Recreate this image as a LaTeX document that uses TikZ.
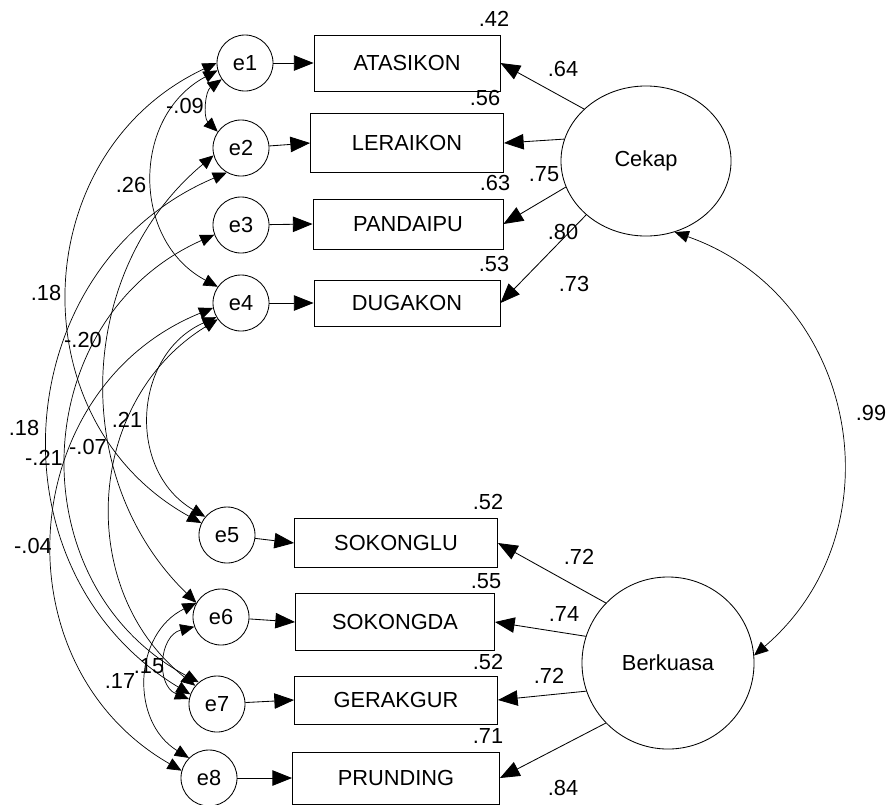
\documentclass[tikz,border=0pt]{standalone}
\usepackage{fontspec}
\setmainfont{Liberation Sans}
\usetikzlibrary{arrows.meta,shapes.geometric}

\begin{document}
\begin{tikzpicture}[x=0.025cm, y=0.025cm, font=\fontsize{15.5}{18}\selectfont,
  err/.style={draw, circle, minimum size=1.4cm, inner sep=0pt, line width=0.6pt},
  obs/.style={draw, rectangle, inner sep=0pt, line width=0.6pt},
  lat/.style={draw, ellipse, inner sep=0pt, line width=0.6pt},
  load/.style={-{Triangle[length=14pt,width=11pt]}, line width=0.6pt},
  cov/.style={{Triangle[length=10pt,width=8.5pt]}-{Triangle[length=10pt,width=8.5pt]}, line width=0.5pt},
  num/.style={inner sep=0pt}]
  \useasboundingbox (0,0) rectangle (886,-804);

  % error terms
  \node[err] (e1) at (245,-63) {e1};
  \node[err] (e2) at (241,-148) {e2};
  \node[err] (e3) at (241,-225) {e3};
  \node[err] (e4) at (241,-303) {e4};
  \node[err] (e5) at (227,-535) {e5};
  \node[err] (e6) at (221,-617) {e6};
  \node[err] (e7) at (217,-704) {e7};
  \node[err] (e8) at (209,-778) {e8};

  % observed items
  \node[obs, minimum width=4.65cm, minimum height=1.4cm] (atasikon) at (407,-63) {ATASIKON};
  \node[obs, minimum width=4.825cm, minimum height=1.475cm] (leraikon) at (407,-143) {LERAIKON};
  \node[obs, minimum width=4.75cm, minimum height=1.25cm] (pandaipu) at (408,-224) {PANDAIPU};
  \node[obs, minimum width=4.65cm, minimum height=1.15cm] (dugakon) at (407,-303) {DUGAKON};
  \node[obs, minimum width=5.075cm, minimum height=1.225cm] (sokonglu) at (396,-543) {SOKONGLU};
  \node[obs, minimum width=4.975cm, minimum height=1.425cm] (sokongda) at (395,-622) {SOKONGDA};
  \node[obs, minimum width=5.075cm, minimum height=1.2cm] (gerakgur) at (396,-700) {GERAKGUR};
  \node[obs, minimum width=5.175cm, minimum height=1.3cm] (prunding) at (396,-778) {PRUNDING};

  % factors
  \node[lat, minimum width=4.25cm, minimum height=3.75cm] (cekap) at (646,-161) {Cekap};
  \node[lat, minimum width=4.3cm, minimum height=4.3cm] (berkuasa) at (668,-663) {Berkuasa};

  % error -> item
  \draw[load] (e1) -- (atasikon.west);
  \draw[load] (e2) -- (leraikon.west);
  \draw[load] (e3) -- (pandaipu.west);
  \draw[load] (e4) -- (dugakon.west);
  \draw[load] (e5) -- (sokonglu.west);
  \draw[load] (e6) -- (sokongda.west);
  \draw[load] (e7) -- (gerakgur.west);
  \draw[load] (e8) -- (prunding.west);

  % factor -> item
  \draw[load] (cekap.140) -- (atasikon.east);
  \draw[load] (cekap.165) -- (leraikon.east);
  \draw[load] (cekap.198) -- (pandaipu.east);
  \draw[load] (cekap.222) -- (dugakon.east);
  \draw[load] (berkuasa.136) -- (sokonglu.east);
  \draw[load] (berkuasa.162) -- (sokongda.east);
  \draw[load] (berkuasa.199) -- (gerakgur.east);
  \draw[load] (berkuasa.224) -- (prunding.east);

  % factor covariance
  \draw[cov] (cekap.292) to[bend left=60, looseness=1.15] (berkuasa.5);

  % error covariances
  \draw[cov] (e1.215) to[bend right=50] (e2.145);
  \draw[cov] (e1.195) to[bend right=62, looseness=1.16] (e4.145);
  \draw[cov] (e1.180) to[bend right=63, looseness=1.17] (e5.155);
  \draw[cov] (e2.195) to[bend right=48, looseness=1.02] (e6.150);
  \draw[cov] (e2.240) to[bend right=63, looseness=1.17] (e7.160);
  \draw[cov] (e3.200) to[bend right=64, looseness=1.18] (e7.130);
  \draw[cov] (e4.210) to[bend right=63, looseness=1.17] (e5.140);
  \draw[cov] (e4.215) to[bend right=55, looseness=1.08] (e7.140);
  \draw[cov] (e4.190) to[bend right=64, looseness=1.18] (e8.165);
  \draw[cov] (e6.150) to[bend right=61, looseness=1.15] (e8.135);
  \draw[cov] (e6.200) to[bend right=72, looseness=1.28] (e7.170);

  % squared multiple correlations
  \node[num] (r1) at (494,-19) {.42};
  \node[num] (r2) at (485,-98) {.56};
  \node[num] (r3) at (495,-183) {.63};
  \node[num] (r4) at (494,-264) {.53};
  \node[num] (r5) at (488,-502) {.52};
  \node[num] (r6) at (486,-581) {.55};
  \node[num] (r7) at (488,-662) {.52};
  \node[num] (r8) at (488,-736) {.71};

  % loadings
  \node[num] (w1) at (563,-69) {.64};
  \node[num] (w2) at (544,-174) {.75};
  \node[num] (w3) at (563,-232) {.80};
  \node[num] (w4) at (574,-284) {.73};
  \node[num] (w5) at (579,-557) {.72};
  \node[num] (w6) at (564,-614) {.74};
  \node[num] (w7) at (549,-676) {.72};
  \node[num] (w8) at (563,-788) {.84};

  % correlations
  \node[num] (c0) at (871,-413) {.99};
  \node[num] (c1) at (185,-106) {-.09};
  \node[num] (c2) at (131,-185) {.26};
  \node[num] (c3) at (46,-293) {.18};
  \node[num] (c4) at (83,-340) {-.20};
  \node[num] (c5) at (127,-420) {.21};
  \node[num] (c6) at (24,-428) {.18};
  \node[num] (c7) at (44,-458) {-.21};
  \node[num] (c8) at (88,-447) {-.07};
  \node[num] (c9) at (33,-546) {-.04};
  \node[num] (c10) at (120,-681) {.17};
  \node[num] (c11) at (149,-666) {.15};
\end{tikzpicture}
\end{document}
